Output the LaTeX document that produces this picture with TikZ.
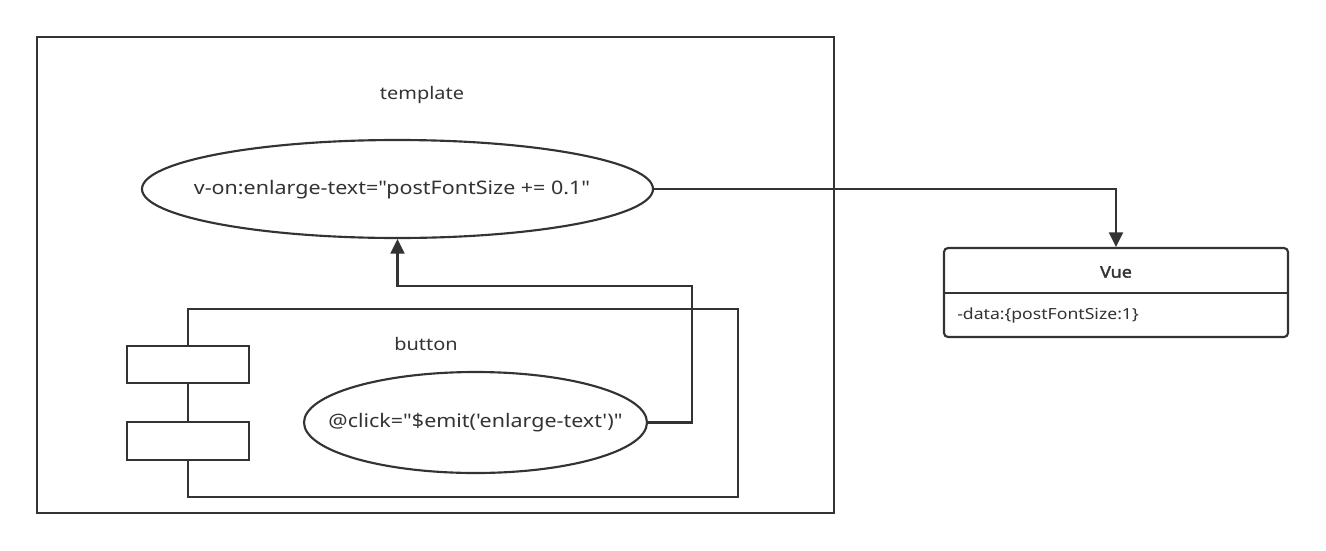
\documentclass[tikz,border=0pt]{standalone}
\usepackage{fontspec}
\newfontfamily\vf{Noto Sans}[FakeStretch=1.15]
\newfontfamily\vfb{Noto Sans}[FakeStretch=1.12,FakeBold=2.2]
\usetikzlibrary{arrows.meta,shapes.geometric}
\definecolor{ink}{HTML}{333333}
\begin{document}
\begin{tikzpicture}[x=0.75pt,y=-0.75pt,
  lbl/.style={font=\vf\fontsize{13}{15}\selectfont, text=ink, inner sep=0pt},
  big/.style={font=\vf\fontsize{14}{16}\selectfont},
  small/.style={font=\vf\fontsize{11.5}{13}\selectfont},
  ell/.style={ellipse, draw=ink, line width=1.6pt, inner sep=0pt, fill=white},
  box/.style={draw=ink, line width=1.6pt, rectangle, inner sep=0pt},
  conn/.style={draw=ink, line width=1.6pt, -{Triangle[length=11pt,width=10.5pt]}}]
\useasboundingbox[fill=white] (0,0) rectangle (1326,550);
% outer frame
\node[box, minimum width=597.75pt, minimum height=357pt] (frame) at (435.5,275) {};
\node[lbl] (tpl) at (422,95) {template};
\node[ell, minimum width=383.25pt, minimum height=73.5pt] (e1) at (397.5,189) {};
\node[lbl, big] (e1t) at (392,190) {v-on:enlarge-text="postFontSize += 0.1"};
% button component
\node[box, minimum width=412.5pt, minimum height=141pt] (btn) at (463,403) {};
\node[box, fill=white, minimum width=91.5pt, minimum height=27.75pt] (p1) at (188,364.5) {};
\node[box, fill=white, minimum width=91.5pt, minimum height=28.5pt] (p2) at (188,441) {};
\node[lbl] (btnt) at (426,344) {button};
\node[ell, minimum width=257.25pt, minimum height=75.75pt] (e2) at (475.5,422.5) {};
\node[lbl, big] (e2t) at (475.5,423) {@click="\$emit('enlarge-text')"};
% Vue class
\node[box, rounded corners=3pt, minimum width=258pt, minimum height=66.75pt] (vue) at (1116,292.5) {};
\node[lbl, font=\vfb\fontsize{12}{14}\selectfont] (vuet) at (1116,272) {Vue};
\node[lbl, small, anchor=west] (data) at (957,316) {-data:\{postFontSize:1\}};
\coordinate (dl) at (944,293);
\coordinate (dr) at (1288,293);
\draw[ink, line width=1.6pt] (dl) -- (dr);
% connectors
\coordinate (k) at (692,286);
\draw[conn] (e1.east) -| (vue.north);
\draw[conn] (e2.east) -| (k) -| (e1.south);
\end{tikzpicture}
\end{document}
